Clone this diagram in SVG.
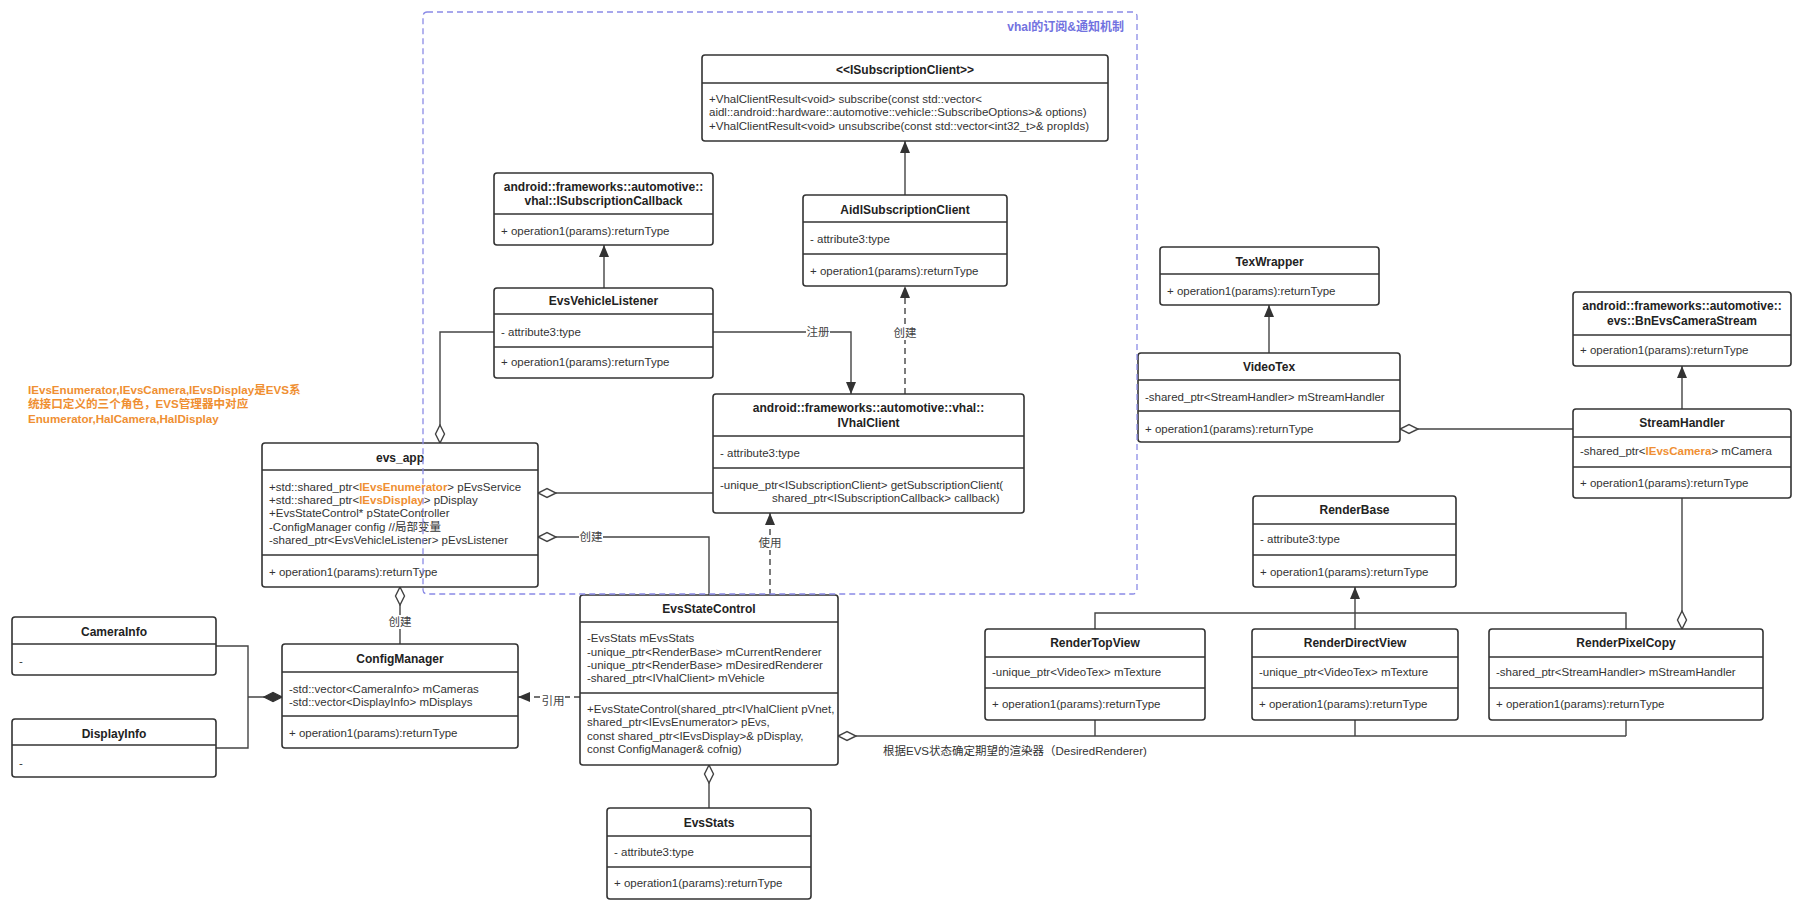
<svg xmlns="http://www.w3.org/2000/svg" width="1808" height="908" viewBox="0 0 1808 908">
<style>
text{font-family:"Liberation Sans","Noto Sans CJK SC",sans-serif;fill:#333;font-size:11.5px}
.h{font-weight:bold;font-size:12px;text-anchor:middle;fill:#222}
.box{fill:#fff;stroke:#333;stroke-width:1.6}
.dv{stroke:#333;stroke-width:1.6}
.c{fill:none;stroke:#444;stroke-width:1.4}
.d{stroke-dasharray:6 4}
.o{fill:#ef8f32;font-weight:bold}
.lb{text-anchor:middle;fill:#444}
.nt{font-weight:bold;font-size:11.6px;fill:#ef8f32}
</style>
<defs>
<marker id="ar" markerUnits="userSpaceOnUse" markerWidth="12" markerHeight="10" refX="12" refY="5" orient="auto"><path d="M0,0 L12,5 L0,10 Z" fill="#333"/></marker>
<marker id="dm" markerUnits="userSpaceOnUse" markerWidth="20" markerHeight="12" refX="19" refY="6" orient="auto"><path d="M1,6 L10,1.5 L19,6 L10,10.5 Z" fill="#fff" stroke="#444" stroke-width="1.4"/></marker>
<marker id="df" markerUnits="userSpaceOnUse" markerWidth="20" markerHeight="12" refX="19" refY="6" orient="auto"><path d="M1,6 L10,1.5 L19,6 L10,10.5 Z" fill="#333" stroke="#333" stroke-width="1.2"/></marker>
</defs>
<rect width="1808" height="908" fill="#fff"/>

<g id="connectors">
<path class="c" d="M905,195 V141" marker-end="url(#ar)"/>
<path class="c" d="M604,288 V245" marker-end="url(#ar)"/>
<path class="c d" d="M905,394 V286" marker-end="url(#ar)"/>
<path class="c" d="M713,332 H851 V394" marker-end="url(#ar)"/>
<path class="c" d="M494,332 H440 V443" marker-end="url(#dm)"/>
<path class="c" d="M713,493 H538" marker-end="url(#dm)"/>
<path class="c" d="M709,595 V537 H538" marker-end="url(#dm)"/>
<path class="c d" d="M770,595 V513" marker-end="url(#ar)"/>
<path class="c" d="M400,644 V587" marker-end="url(#dm)"/>
<path class="c d" d="M580,697 H518" marker-end="url(#ar)"/>
<path class="c" d="M216,646 H248 V748 H216"/>
<path class="c" d="M248,697 H282" marker-end="url(#df)"/>
<path class="c" d="M1269,353 V305" marker-end="url(#ar)"/>
<path class="c" d="M1682,409 V366" marker-end="url(#ar)"/>
<path class="c" d="M1573,429 H1400" marker-end="url(#dm)"/>
<path class="c" d="M1682,498 V629" marker-end="url(#dm)"/>
<path class="c" d="M1095,629 V613 H1626 V629"/>
<path class="c" d="M1355,629 V587" marker-end="url(#ar)"/>
<path class="c" d="M1095,720 V736 M1355,720 V736 M1626,720 V736"/>
<path class="c" d="M1626,736 H838" marker-end="url(#dm)"/>
<path class="c" d="M709,808 V765" marker-end="url(#dm)"/>
<rect x="806" y="325" width="24" height="14" fill="#fff"/>
<text class="lb" x="818" y="336">注册</text>
<rect x="893" y="326" width="24" height="14" fill="#fff"/>
<text class="lb" x="905" y="337">创建</text>
<rect x="579" y="530" width="24" height="14" fill="#fff"/>
<text class="lb" x="591" y="541">创建</text>
<rect x="758" y="536" width="24" height="14" fill="#fff"/>
<text class="lb" x="770" y="547">使用</text>
<rect x="388" y="615" width="24" height="14" fill="#fff"/>
<text class="lb" x="400" y="626">创建</text>
<rect x="541" y="694" width="24" height="14" fill="#fff"/>
<text class="lb" x="553" y="705">引用</text>
<text x="883" y="755">根据EVS状态确定期望的渲染器（DesiredRenderer)</text>
</g>

<g id="ISubscriptionClient">
<rect class="box" x="702" y="55" width="406" height="86" rx="3"/>
<line class="dv" x1="702" y1="83" x2="1108" y2="83"/>
<text class="h" x="905" y="74">&lt;&lt;ISubscriptionClient&gt;&gt;</text>
<text x="709" y="103">+VhalClientResult&lt;void&gt; subscribe(const std::vector&lt;</text>
<text x="709" y="116">aidl::android::hardware::automotive::vehicle::SubscribeOptions&gt;&amp; options)</text>
<text x="709" y="130">+VhalClientResult&lt;void&gt; unsubscribe(const std::vector&lt;int32_t&gt;&amp; propIds)</text>
</g>

<g id="ISubscriptionCallback">
<rect class="box" x="494" y="173" width="219" height="72" rx="3"/>
<line class="dv" x1="494" y1="214" x2="713" y2="214"/>
<text class="h" x="603.5" y="191">android::frameworks::automotive::</text>
<text class="h" x="603.5" y="205">vhal::ISubscriptionCallback</text>
<text x="501" y="235">+ operation1(params):returnType</text>
</g>

<g id="AidlSubscriptionClient">
<rect class="box" x="803" y="195" width="204" height="91" rx="3"/>
<line class="dv" x1="803" y1="222" x2="1007" y2="222"/>
<line class="dv" x1="803" y1="254" x2="1007" y2="254"/>
<text class="h" x="905" y="214">AidlSubscriptionClient</text>
<text x="810" y="243">- attribute3:type</text>
<text x="810" y="275">+ operation1(params):returnType</text>
</g>

<g id="EvsVehicleListener">
<rect class="box" x="494" y="288" width="219" height="90" rx="3"/>
<line class="dv" x1="494" y1="314" x2="713" y2="314"/>
<line class="dv" x1="494" y1="347" x2="713" y2="347"/>
<text class="h" x="603.5" y="305">EvsVehicleListener</text>
<text x="501" y="336">- attribute3:type</text>
<text x="501" y="366">+ operation1(params):returnType</text>
</g>

<g id="IVhalClient">
<rect class="box" x="713" y="394" width="311" height="119" rx="3"/>
<line class="dv" x1="713" y1="436" x2="1024" y2="436"/>
<line class="dv" x1="713" y1="468" x2="1024" y2="468"/>
<text class="h" x="868.5" y="412">android::frameworks::automotive::vhal::</text>
<text class="h" x="868.5" y="427">IVhalClient</text>
<text x="720" y="457">- attribute3:type</text>
<text x="720" y="489">-unique_ptr&lt;ISubscriptionClient&gt; getSubscriptionClient(</text>
<text x="772" y="502">shared_ptr&lt;ISubscriptionCallback&gt; callback)</text>
</g>

<g id="evs_app">
<rect class="box" x="262" y="443" width="276" height="144" rx="3"/>
<line class="dv" x1="262" y1="470" x2="538" y2="470"/>
<line class="dv" x1="262" y1="555" x2="538" y2="555"/>
<text class="h" x="400" y="462">evs_app</text>
<text x="269" y="491">+std::shared_ptr&lt;<tspan class="o">IEvsEnumerator</tspan>&gt; pEvsService</text>
<text x="269" y="504">+std::shared_ptr&lt;<tspan class="o">IEvsDisplay</tspan>&gt; pDisplay</text>
<text x="269" y="517">+EvsStateControl* pStateController</text>
<text x="269" y="531">-ConfigManager config //局部变量</text>
<text x="269" y="544">-shared_ptr&lt;EvsVehicleListener&gt; pEvsListener</text>
<text x="269" y="576">+ operation1(params):returnType</text>
</g>

<g id="EvsStateControl">
<rect class="box" x="580" y="595" width="258" height="170" rx="3"/>
<line class="dv" x1="580" y1="622" x2="838" y2="622"/>
<line class="dv" x1="580" y1="693" x2="838" y2="693"/>
<text class="h" x="709" y="613">EvsStateControl</text>
<text x="587" y="642">-EvsStats mEvsStats</text>
<text x="587" y="656">-unique_ptr&lt;RenderBase&gt; mCurrentRenderer</text>
<text x="587" y="669">-unique_ptr&lt;RenderBase&gt; mDesiredRenderer</text>
<text x="587" y="682">-shared_ptr&lt;IVhalClient&gt; mVehicle</text>
<text x="587" y="713">+EvsStateControl(shared_ptr&lt;IVhalClient pVnet,</text>
<text x="587" y="726">shared_ptr&lt;IEvsEnumerator&gt; pEvs,</text>
<text x="587" y="740">const shared_ptr&lt;IEvsDisplay&gt;&amp; pDisplay,</text>
<text x="587" y="753">const ConfigManager&amp; cofnig)</text>
</g>

<g id="CameraInfo">
<rect class="box" x="12" y="617" width="204" height="58" rx="3"/>
<line class="dv" x1="12" y1="644" x2="216" y2="644"/>
<text class="h" x="114" y="636">CameraInfo</text>
<text x="19" y="665">-</text>
</g>

<g id="DisplayInfo">
<rect class="box" x="12" y="719" width="204" height="58" rx="3"/>
<line class="dv" x1="12" y1="745" x2="216" y2="745"/>
<text class="h" x="114" y="738">DisplayInfo</text>
<text x="19" y="767">-</text>
</g>

<g id="ConfigManager">
<rect class="box" x="282" y="644" width="236" height="104" rx="3"/>
<line class="dv" x1="282" y1="672" x2="518" y2="672"/>
<line class="dv" x1="282" y1="716" x2="518" y2="716"/>
<text class="h" x="400" y="663">ConfigManager</text>
<text x="289" y="693">-std::vector&lt;CameraInfo&gt; mCameras</text>
<text x="289" y="706">-std::vector&lt;DisplayInfo&gt; mDisplays</text>
<text x="289" y="737">+ operation1(params):returnType</text>
</g>

<g id="EvsStats">
<rect class="box" x="607" y="808" width="204" height="91" rx="3"/>
<line class="dv" x1="607" y1="836" x2="811" y2="836"/>
<line class="dv" x1="607" y1="867" x2="811" y2="867"/>
<text class="h" x="709" y="827">EvsStats</text>
<text x="614" y="856">- attribute3:type</text>
<text x="614" y="887">+ operation1(params):returnType</text>
</g>

<g id="TexWrapper">
<rect class="box" x="1160" y="247" width="219" height="58" rx="3"/>
<line class="dv" x1="1160" y1="274" x2="1379" y2="274"/>
<text class="h" x="1269.5" y="266">TexWrapper</text>
<text x="1167" y="295">+ operation1(params):returnType</text>
</g>

<g id="VideoTex">
<rect class="box" x="1138" y="353" width="262" height="89" rx="3"/>
<line class="dv" x1="1138" y1="380" x2="1400" y2="380"/>
<line class="dv" x1="1138" y1="411" x2="1400" y2="411"/>
<text class="h" x="1269" y="371">VideoTex</text>
<text x="1145" y="401">-shared_ptr&lt;StreamHandler&gt; mStreamHandler</text>
<text x="1145" y="433">+ operation1(params):returnType</text>
</g>

<g id="BnEvsCameraStream">
<rect class="box" x="1573" y="292" width="218" height="74" rx="3"/>
<line class="dv" x1="1573" y1="335" x2="1791" y2="335"/>
<text class="h" x="1682" y="310">android::frameworks::automotive::</text>
<text class="h" x="1682" y="325">evs::BnEvsCameraStream</text>
<text x="1580" y="354">+ operation1(params):returnType</text>
</g>

<g id="StreamHandler">
<rect class="box" x="1573" y="409" width="218" height="89" rx="3"/>
<line class="dv" x1="1573" y1="437" x2="1791" y2="437"/>
<line class="dv" x1="1573" y1="467" x2="1791" y2="467"/>
<text class="h" x="1682" y="427">StreamHandler</text>
<text x="1580" y="455">-shared_ptr&lt;<tspan class="o">IEvsCamera</tspan>&gt; mCamera</text>
<text x="1580" y="487">+ operation1(params):returnType</text>
</g>

<g id="RenderBase">
<rect class="box" x="1253" y="496" width="203" height="91" rx="3"/>
<line class="dv" x1="1253" y1="524" x2="1456" y2="524"/>
<line class="dv" x1="1253" y1="555" x2="1456" y2="555"/>
<text class="h" x="1354.5" y="514">RenderBase</text>
<text x="1260" y="543">- attribute3:type</text>
<text x="1260" y="576">+ operation1(params):returnType</text>
</g>

<g id="RenderTopView">
<rect class="box" x="985" y="629" width="220" height="91" rx="3"/>
<line class="dv" x1="985" y1="657" x2="1205" y2="657"/>
<line class="dv" x1="985" y1="688" x2="1205" y2="688"/>
<text class="h" x="1095" y="647">RenderTopView</text>
<text x="992" y="676">-unique_ptr&lt;VideoTex&gt; mTexture</text>
<text x="992" y="708">+ operation1(params):returnType</text>
</g>

<g id="RenderDirectView">
<rect class="box" x="1252" y="629" width="206" height="91" rx="3"/>
<line class="dv" x1="1252" y1="657" x2="1458" y2="657"/>
<line class="dv" x1="1252" y1="688" x2="1458" y2="688"/>
<text class="h" x="1355" y="647">RenderDirectView</text>
<text x="1259" y="676">-unique_ptr&lt;VideoTex&gt; mTexture</text>
<text x="1259" y="708">+ operation1(params):returnType</text>
</g>

<g id="RenderPixelCopy">
<rect class="box" x="1489" y="629" width="274" height="91" rx="3"/>
<line class="dv" x1="1489" y1="657" x2="1763" y2="657"/>
<line class="dv" x1="1489" y1="688" x2="1763" y2="688"/>
<text class="h" x="1626" y="647">RenderPixelCopy</text>
<text x="1496" y="676">-shared_ptr&lt;StreamHandler&gt; mStreamHandler</text>
<text x="1496" y="708">+ operation1(params):returnType</text>
</g>

<g id="note">
<text class="nt" x="28" y="394">IEvsEnumerator,IEvsCamera,IEvsDisplay是EVS系</text>
<text class="nt" x="28" y="408">统接口定义的三个角色，EVS管理器中对应</text>
<text class="nt" x="28" y="423">Enumerator,HalCamera,HalDisplay</text>
</g>

<g id="vhal_group">
<rect x="423" y="12" width="714" height="582" rx="4" fill="none" stroke="#8b8be6" stroke-width="1.3" stroke-dasharray="6 4"/>
<text x="1124" y="31" style="font-weight:bold;font-size:12px;fill:#7272e0;text-anchor:end">vhal的订阅&amp;通知机制</text>
</g>
</svg>
